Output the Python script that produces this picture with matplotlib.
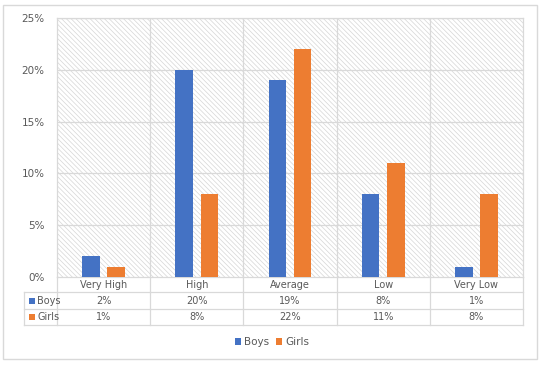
import matplotlib.pyplot as plt
from matplotlib.patches import Rectangle, Patch
from matplotlib.lines import Line2D
import numpy as np

categories = ['Very High', 'High', 'Average', 'Low', 'Very Low']
boys = [2, 20, 19, 8, 1]
girls = [1, 8, 22, 11, 8]
series_names = ['Boys', 'Girls']
yticks = [0, 5, 10, 15, 20, 25]

BLUE = '#4472c4'
ORANGE = '#ed7d31'
GRID = '#d9d9d9'
TXT = '#595959'

W, H = 544, 366
plt.rcParams['font.family'] = ['DejaVu Sans']
plt.rcParams['hatch.linewidth'] = 0.5
plt.rcParams['hatch.color'] = '#d6d6d6'

fig = plt.figure(figsize=(W / 100, H / 100), dpi=100)


def fx(px):
    return px / W


def fy(py):
    return 1 - py / H


# outer border
fig.patches.append(Rectangle((fx(3), fy(359)), fx(534), 354 / H, transform=fig.transFigure,
                             fill=False, edgecolor=GRID, linewidth=1))

left, right, top, bottom = 57, 523, 18, 277
ax = fig.add_axes([fx(left), fy(bottom), fx(right - left), (bottom - top) / H])

x = np.arange(len(categories))
ax.add_patch(Rectangle((-0.5, 0), len(categories), 25, facecolor='white', hatch='\\' * 7,
                       edgecolor='#d6d6d6', linewidth=0, zorder=0))
bw = 0.19
ax.bar(x - 0.135, boys, bw, color=BLUE, zorder=3)
ax.bar(x + 0.135, girls, bw, color=ORANGE, zorder=3)

ax.set_xlim(-0.5, len(categories) - 0.5)
ax.set_ylim(0, 25)
ax.set_yticks(yticks)
ax.set_yticklabels([f'{v}%' for v in yticks], color=TXT, fontsize=7.5)
ax.tick_params(axis='y', length=0, pad=9)
ax.set_xticks([])
for v in yticks[1:]:
    ax.axhline(v, color=GRID, linewidth=0.9, zorder=1)
for b in np.arange(0.5, len(categories) - 0.5, 1):
    ax.axvline(b, color=GRID, linewidth=0.9, zorder=1)
for s in ax.spines.values():
    s.set_color(GRID)
    s.set_linewidth(0.9)

# data table under the plot
col_edges = [left + (right - left) * i / len(categories) for i in range(len(categories) + 1)]
rows_y = [277, 292, 309, 325]
tl = dict(color=GRID, linewidth=0.9, transform=fig.transFigure)
for i, xe in enumerate(col_edges):
    fig.lines.append(Line2D([fx(xe), fx(xe)], [fy(277), fy(325)], **tl))
fig.lines.append(Line2D([fx(24), fx(24)], [fy(292), fy(325)], **tl))
for yy in rows_y[1:]:
    fig.lines.append(Line2D([fx(24), fx(right)], [fy(yy), fy(yy)], **tl))

for i, c in enumerate(categories):
    cx = (col_edges[i] + col_edges[i + 1]) / 2
    fig.text(fx(cx), fy(285), c, ha='center', va='center', fontsize=7, color=TXT)
    fig.text(fx(cx), fy(300.5), f'{boys[i]}%', ha='center', va='center', fontsize=7, color=TXT)
    fig.text(fx(cx), fy(317), f'{girls[i]}%', ha='center', va='center', fontsize=7, color=TXT)

for name, col, yy in zip(series_names, [BLUE, ORANGE], [300.5, 317]):
    fig.patches.append(Rectangle((fx(29), fy(yy + 3)), fx(6), 6 / H, transform=fig.transFigure,
                                 facecolor=col, edgecolor='none'))
    fig.text(fx(37), fy(yy), name, ha='left', va='center', fontsize=7, color=TXT)

handles = [Patch(facecolor=BLUE), Patch(facecolor=ORANGE)]
fig.legend(handles, series_names, loc='center', bbox_to_anchor=(fx(272), fy(342)), ncol=2,
           frameon=False, fontsize=7.5, labelcolor=TXT, handlelength=0.6, handleheight=0.6,
           handletextpad=0.3, columnspacing=0.6)

fig.savefig('out.png', dpi=100)
